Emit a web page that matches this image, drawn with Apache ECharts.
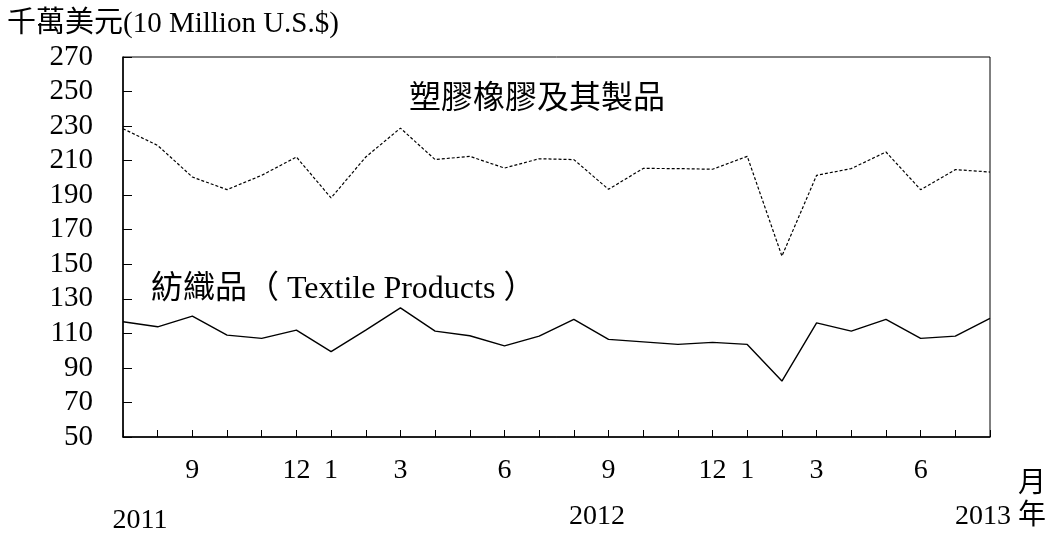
<!DOCTYPE html>
<html>
<head>
<meta charset="utf-8">
<script src="https://cdn.jsdelivr.net/npm/echarts@6/dist/echarts.min.js"></script>
<style>
html,body{margin:0;padding:0;background:#fff;}
#chart{width:1047px;height:536px;}
</style>
</head>
<body>
<div id="chart"></div>
<script>
// Months Jul 2011 .. Aug 2013
const categories = ['2011-07','2011-08','2011-09','2011-10','2011-11','2011-12',
  '2012-01','2012-02','2012-03','2012-04','2012-05','2012-06','2012-07','2012-08','2012-09','2012-10','2012-11','2012-12',
  '2013-01','2013-02','2013-03','2013-04','2013-05','2013-06','2013-07','2013-08'];
const monthLabels = ['','','9','','','12','1','','3','','','6','','','9','','','12','1','','3','','','6','',''];
const plasticRubber = [228.5,218.8,200.5,193.2,201.5,212.1,188.4,212.1,228.8,210.6,212.5,205.7,211.1,210.6,193.4,205.5,205.4,205.0,212.5,154.7,201.5,205.4,215.0,193.2,204.8,203.4];
const textiles = [116.7,113.8,120.0,109.0,107.1,111.9,99.4,111.9,124.8,111.3,108.6,102.8,108.4,118.1,106.5,105.1,103.6,104.8,103.6,82.4,116.1,111.3,118.1,107.1,108.4,118.7];
const yTicks = {min:50, max:270, interval:20};
const unitTitle = '千萬美元(10 Million U.S.$)';
const plasticName = '塑膠橡膠及其製品';
const textileName = '紡織品（ Textile Products ）';
const yearLabels = ['2011','2012','2013 年'];
const monthUnit = '月';

const SERIF = '"Liberation Serif","Noto Sans CJK TC",serif';
const chart = echarts.init(document.getElementById('chart'), null, {renderer:'canvas'});
chart.setOption({
  animation:false,
  backgroundColor:'#fff',
  grid:{left:123, right:57, top:57, bottom:99, show:true, borderColor:'#000', borderWidth:1, backgroundColor:'transparent'},
  xAxis:{
    type:'category', data:categories, boundaryGap:false,
    axisLine:{lineStyle:{color:'#000', width:1.5}},
    axisTick:{inside:true, length:7, interval:0, lineStyle:{color:'#000', width:1}},
    axisLabel:{interval:0, margin:20, color:'#000', fontFamily:SERIF, fontSize:28,
      formatter:(v, i)=>monthLabels[i]},
    splitLine:{show:false}
  },
  yAxis:{
    type:'value', min:yTicks.min, max:yTicks.max, interval:yTicks.interval,
    axisLine:{show:true, lineStyle:{color:'#000', width:1.5}},
    axisTick:{show:true, inside:true, length:9, lineStyle:{color:'#000', width:1}},
    axisLabel:{margin:30, color:'#000', fontFamily:SERIF, fontSize:29},
    splitLine:{show:false}
  },
  series:[
    {name:plasticName, type:'line', data:plasticRubber, symbol:'none',
      lineStyle:{color:'#000', width:1.2, type:[3,2]}},
    {name:textileName, type:'line', data:textiles, symbol:'none',
      lineStyle:{color:'#000', width:1.4}}
  ],
  graphic:[
    {type:'text', left:7, top:10, style:{text:unitTitle, font:'29px '+SERIF, fill:'#000'}},
    {type:'text', x:537, y:100, style:{text:plasticName, font:'32px '+SERIF, fill:'#000', align:'center', verticalAlign:'middle'}},
    {type:'text', x:151, y:290, style:{text:textileName, font:'32px '+SERIF, fill:'#000', align:'left', verticalAlign:'middle'}},
    {type:'text', x:140, y:521, style:{text:yearLabels[0], font:'28px '+SERIF, fill:'#000', align:'center', verticalAlign:'middle'}},
    {type:'text', x:597, y:517, style:{text:yearLabels[1], font:'28px '+SERIF, fill:'#000', align:'center', verticalAlign:'middle'}},
    {type:'text', x:1046, y:517, style:{text:yearLabels[2], font:'28px '+SERIF, fill:'#000', align:'right', verticalAlign:'middle'}},
    {type:'text', x:1032, y:485, style:{text:monthUnit, font:'28px '+SERIF, fill:'#000', align:'center', verticalAlign:'middle'}}
  ]
});
</script>
</body>
</html>
